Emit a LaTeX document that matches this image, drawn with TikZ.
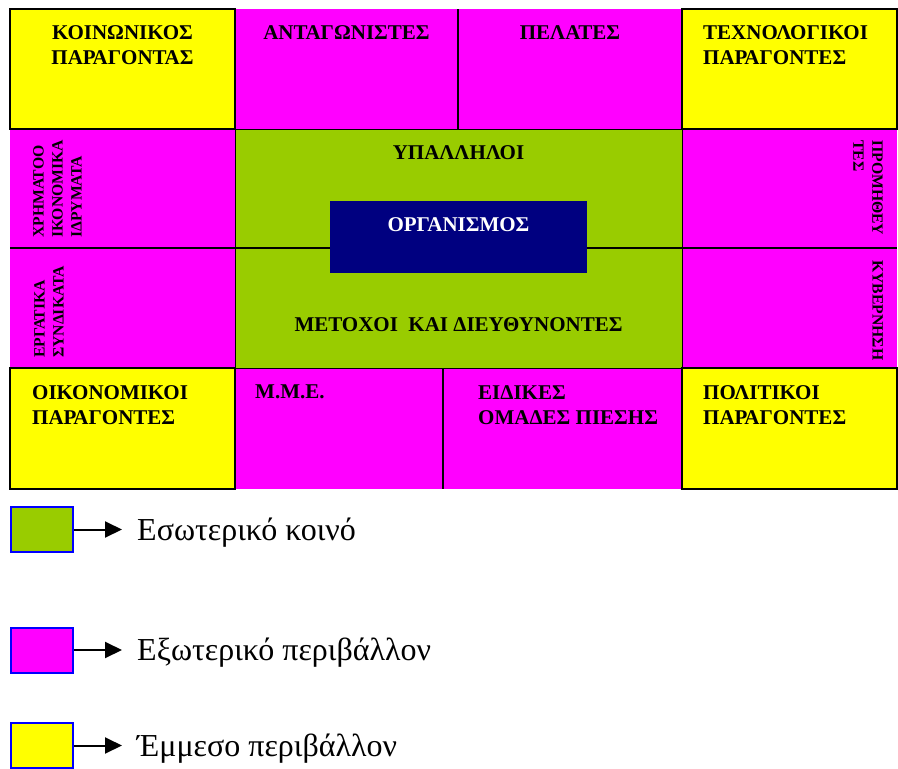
\documentclass[tikz,border=0pt]{standalone}
\usepackage{fontspec}
\setmainfont{Liberation Serif}
\usetikzlibrary{arrows.meta}
\definecolor{MPink}{HTML}{FF00FF}
\definecolor{MGreen}{HTML}{99CC00}
\definecolor{MYellow}{HTML}{FFFF00}
\definecolor{DBlue}{HTML}{000080}
\definecolor{KBlue}{HTML}{0000FF}

\begin{document}
\begin{tikzpicture}[x=1pt, y=-1pt,
    split/.style={draw=black, line width=1.5pt},
    corner/.style={draw=black, line width=1.6pt, fill=MYellow},
    lbl/.style={inner sep=0pt, font=\fontsize{21}{25}\selectfont\bfseries},
    side/.style={inner sep=0pt, align=left, font=\fontsize{15.7}{19}\selectfont\bfseries},
    key/.style={draw=KBlue, line width=2pt, minimum width=62pt, minimum height=45pt, inner sep=0pt},
    keytxt/.style={inner sep=0pt, anchor=base west, font=\fontsize{32}{36}\selectfont}]

    \useasboundingbox (0,0) rectangle (898,769);

    % outer ring (external environment)
    \fill[MPink] (235,9) rectangle (682,489);
    \fill[MPink] (10,129) rectangle (897,368);
    \draw[split] (458,9) -- (458,129);
    \draw[split] (443,368) -- (443,489);
    \draw[split] (10,248) -- (897,248);

    % internal public
    \filldraw[draw=black, line width=0.9pt, fill=MGreen] (235,129) rectangle (682,368);
    \draw[split] (235,248) -- (682,248);

    % indirect environment
    \filldraw[corner] (10,9) rectangle (235,129);
    \filldraw[corner] (682,9) rectangle (897,129);
    \filldraw[corner] (10,368) rectangle (235,489);
    \filldraw[corner] (682,368) rectangle (897,489);

    \node[fill=DBlue, minimum width=257pt, minimum height=72pt, inner sep=0pt] (org) at (458.5,237) {};
    \node[lbl, white, anchor=north] (orgtxt) at (458.5,217) {ΟΡΓΑΝΙΣΜΟΣ};

    \node[lbl, anchor=north] (staff) at (458.5,145) {ΥΠΑΛΛΗΛΟΙ};
    \node[lbl, anchor=north] (owners) at (458.5,317) {ΜΕΤΟΧΟΙ\ \ ΚΑΙ ΔΙΕΥΘΥΝΟΝΤΕΣ};

    % top row
    \node[lbl, anchor=north, align=center] (social) at (122.5,25) {ΚΟΙΝΩΝΙΚΟΣ\\ΠΑΡΑΓΟΝΤΑΣ};
    \node[lbl, anchor=north] (rivals) at (346.5,25) {ΑΝΤΑΓΩΝΙΣΤΕΣ};
    \node[lbl, anchor=north] (clients) at (570,25) {ΠΕΛΑΤΕΣ};
    \node[lbl, anchor=north west, align=left] (tech) at (703,25) {ΤΕΧΝΟΛΟΓΙΚΟΙ\\ΠΑΡΑΓΟΝΤΕΣ};

    % sides
    \node[side, rotate=90, anchor=north west] (banks) at (33,238) {ΧΡΗΜΑΤΟΟ\\ΙΚΟΝΟΜΙΚΑ\\ΙΔΡΥΜΑΤΑ};
    \node[side, rotate=90, anchor=north west] (unions) at (34,358) {ΕΡΓΑΤΙΚΑ\\ΣΥΝΔΙΚΑΤΑ};
    \node[side, rotate=-90, anchor=north west] (suppl) at (883,140) {ΠΡΟΜΗΘΕΥ\\ΤΕΣ};
    \node[side, rotate=-90, anchor=north west] (gov) at (883,260) {ΚΥΒΕΡΝΗΣΗ};

    % bottom row
    \node[lbl, anchor=north west, align=left] (econ) at (32,385) {ΟΙΚΟΝΟΜΙΚΟΙ\\ΠΑΡΑΓΟΝΤΕΣ};
    \node[lbl, anchor=north west] (media) at (255,385) {Μ.Μ.Ε.};
    \node[lbl, anchor=north west, align=left] (lobby) at (478,385) {ΕΙΔΙΚΕΣ\\ΟΜΑΔΕΣ ΠΙΕΣΗΣ};
    \node[lbl, anchor=north west, align=left] (polit) at (703,385) {ΠΟΛΙΤΙΚΟΙ\\ΠΑΡΑΓΟΝΤΕΣ};

    % legend
    \foreach \nm/\y/\col/\txt in {in/529.5/MGreen/Εσωτερικό κοινό,
                                  out/650/MPink/Εξωτερικό περιβάλλον,
                                  ind/745.5/MYellow/Έμμεσο περιβάλλον} {
        \node[key, fill=\col] (key\nm) at (42,\y) {};
        \coordinate (tip\nm) at (122,\y);
        \draw[line width=2pt, -{Triangle[length=17pt,width=16pt]}] (key\nm.east) -- (tip\nm);
        \node[keytxt] (txt\nm) at (137,\y+10.5) {\txt};
    }
\end{tikzpicture}
\end{document}
